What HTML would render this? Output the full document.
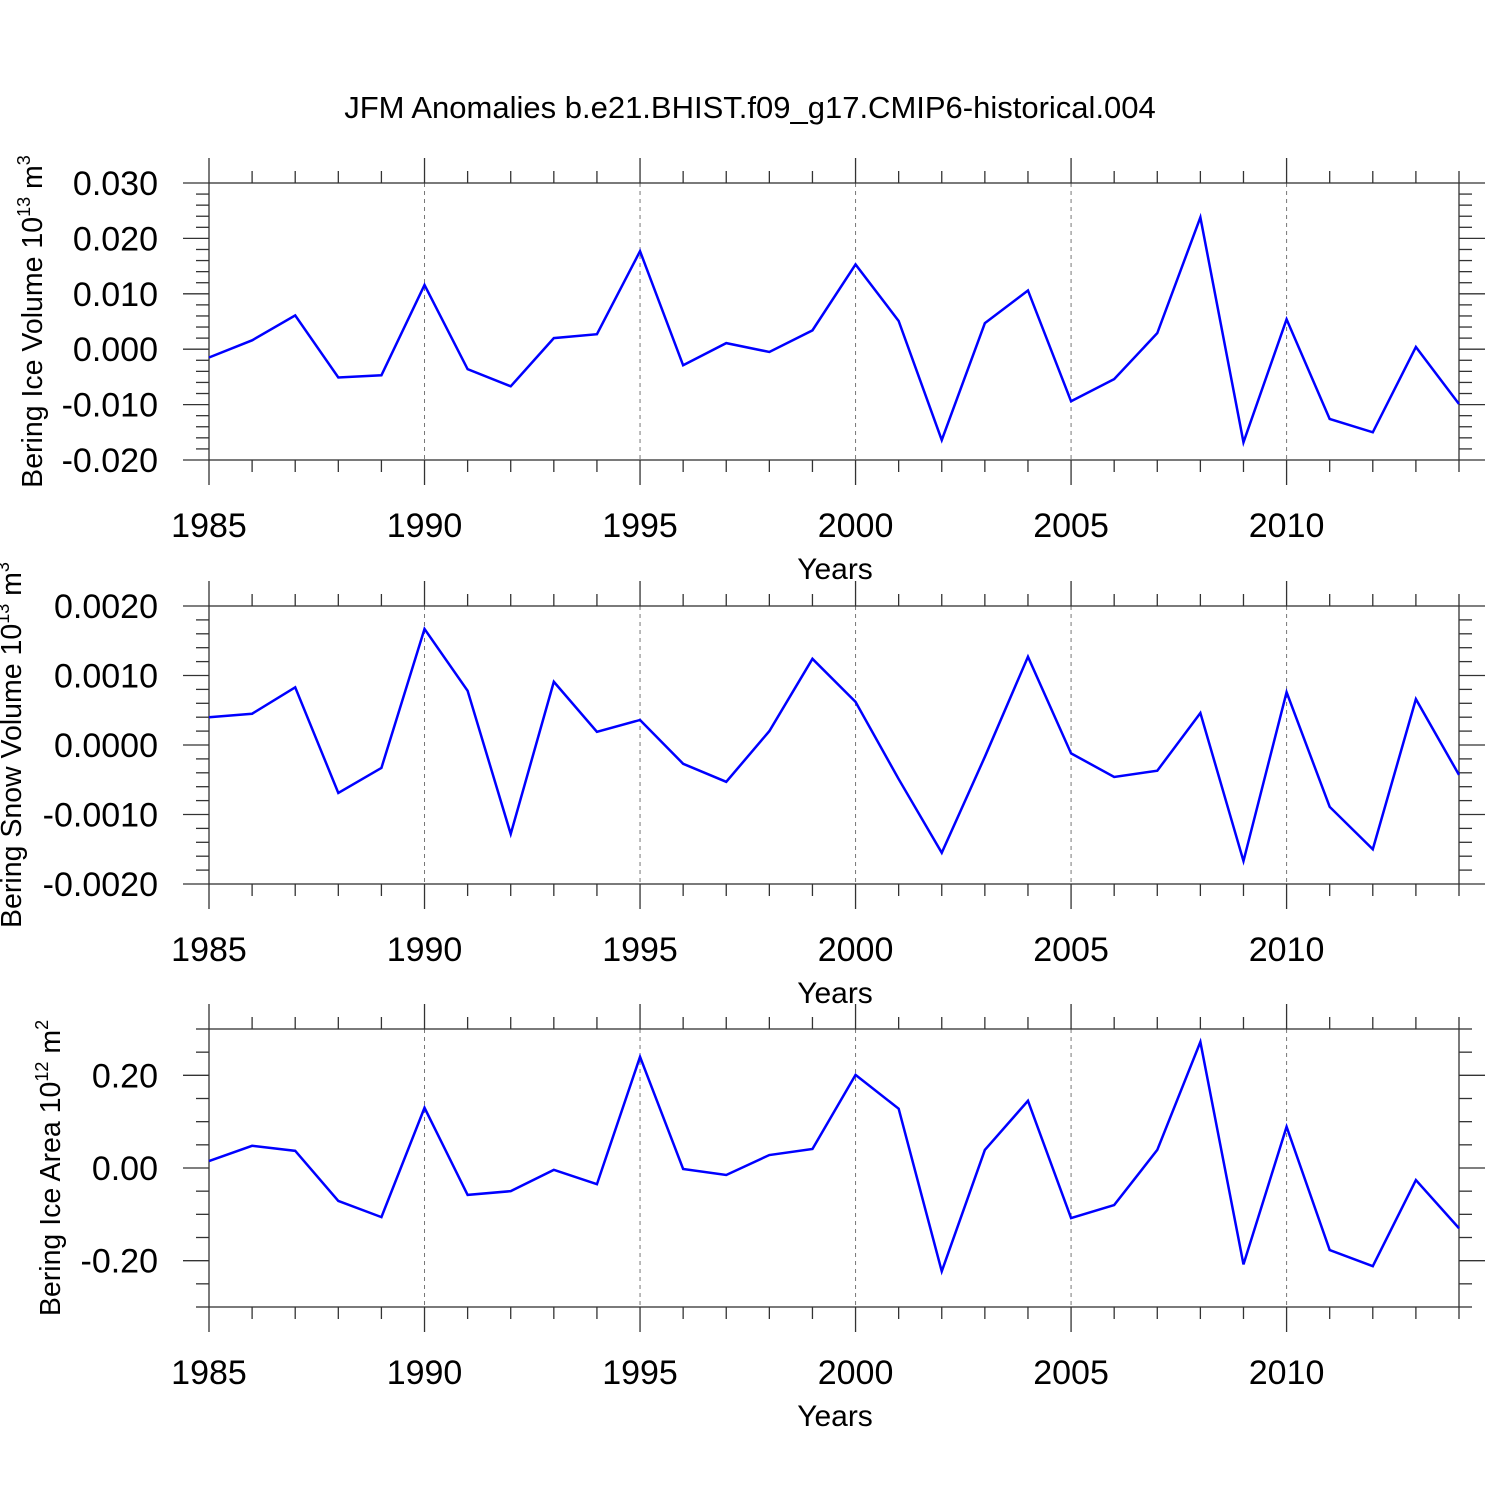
<!DOCTYPE html>
<html><head><meta charset="utf-8"><style>
html,body{margin:0;padding:0;background:#fff;}
svg{display:block;font-family:"Liberation Sans",sans-serif;}
</style></head><body>
<svg id="chart" width="1500" height="1500" viewBox="0 0 1500 1500">
<text x="750" y="118" text-anchor="middle" font-size="31">JFM Anomalies b.e21.BHIST.f09_g17.CMIP6-historical.004</text>
</svg>
<script>
const years = [1985,1986,1987,1988,1989,1990,1991,1992,1993,1994,1995,1996,1997,1998,1999,2000,2001,2002,2003,2004,2005,2006,2007,2008,2009,2010,2011,2012,2013,2014];
const iceVolume = [-0.0015,0.0016,0.0061,-0.0051,-0.0047,0.0116,-0.0036,-0.0067,0.0020,0.0027,0.0177,-0.0029,0.0011,-0.0005,0.0034,0.0153,0.0051,-0.0164,0.0047,0.0106,-0.0094,-0.0054,0.0029,0.0238,-0.0168,0.0054,-0.0126,-0.0150,0.0004,-0.0099];
const snowVolume = [0.00040,0.00045,0.00083,-0.00069,-0.00033,0.00167,0.00078,-0.00128,0.00091,0.00019,0.00036,-0.00027,-0.00053,0.00020,0.00124,0.00062,-0.00049,-0.00155,-0.00017,0.00127,-0.00012,-0.00046,-0.00037,0.00046,-0.00167,0.00076,-0.00089,-0.00150,0.00066,-0.00043];
const iceArea = [0.015,0.048,0.037,-0.071,-0.106,0.130,-0.058,-0.050,-0.004,-0.035,0.240,-0.002,-0.015,0.028,0.041,0.201,0.128,-0.223,0.039,0.145,-0.108,-0.080,0.039,0.272,-0.208,0.089,-0.177,-0.212,-0.026,-0.130];
const xTickLabels = [1985,1990,1995,2000,2005,2010];
const iceVolTicks = ["0.030","0.020","0.010","0.000","-0.010","-0.020"];
const snowTicks = ["0.0020","0.0010","0.0000","-0.0010","-0.0020"];
const areaTicks = ["0.20","0.00","-0.20"];

const NS="http://www.w3.org/2000/svg";
const svg=document.getElementById('chart');
function mk(tag,attrs,parent){const e=document.createElementNS(NS,tag);for(const k in attrs)e.setAttribute(k,attrs[k]);(parent||svg).appendChild(e);return e;}
const X0=209,X1=1459;
function xs(yr){return X0+(yr-1985)*(X1-X0)/29;}

function panel(o){
  const g=mk('g',{});
  
  
  const ys=v=>o.top+(o.ymax-v)*(o.bot-o.top)/(o.ymax-o.ymin);
  for(const yr of [1990,1995,2000,2005,2010]){
    const l=mk('line',{x1:xs(yr),x2:xs(yr),y1:o.top,y2:o.bot,stroke:'#777','stroke-width':1,'stroke-dasharray':'4,4'},g);
    
    
  }
  const st={stroke:'#333','stroke-width':1.3};
  const fr=mk('rect',Object.assign({x:X0,y:o.top,width:X1-X0,height:o.bot-o.top,fill:'none'},st),g);
  
  
  for(const yr of years){
    const maj=(yr%5===0), L=maj?25:12, x=xs(yr);
    mk('line',Object.assign({x1:x,x2:x,y1:o.top,y2:o.top-L},st),g);
    mk('line',Object.assign({x1:x,x2:x,y1:o.bot,y2:o.bot+L},st),g);
  }
  const n=Math.round((o.ymax-o.ymin)/o.minor);
  for(let i=0;i<=n;i++){
    const v=o.ymin+i*o.minor;
    const r=Math.abs(v/o.major-Math.round(v/o.major))<1e-6;
    const L=r?26:13, y=ys(v);
    mk('line',Object.assign({x1:X0,x2:X0-L,y1:y,y2:y},st),g);
    mk('line',Object.assign({x1:X1,x2:X1+L,y1:y,y2:y},st),g);
  }
  for(const t of o.ticks){
    const tx=mk('text',{x:158,y:ys(parseFloat(t))+12,'text-anchor':'end','font-size':34},g);
    tx.textContent=t;
    
    
  }
  for(const yr of xTickLabels){
    const tx=mk('text',{x:xs(yr),y:o.bot+77,'text-anchor':'middle','font-size':34},g);
    tx.textContent=yr;
    
    
  }
  const xt=mk('text',{x:835,y:o.bot+119,'text-anchor':'middle','font-size':30},g);
  xt.textContent='Years';
  
  
  const cy=(o.top+o.bot)/2;
  const yt=mk('text',{x:0,y:0,'text-anchor':'middle','font-size':28.5,transform:`translate(${o.tx},${cy}) rotate(-90)`},g);
  yt.innerHTML=o.title+' 10<tspan dy="-12" font-size="18">'+o.exp+'</tspan><tspan dy="12"> m</tspan><tspan dy="-12" font-size="18">'+o.exp2+'</tspan>';
  
  
  const pts=o.data.map((v,i)=>xs(years[i])+','+ys(v)).join(' ');
  const pl=mk('polyline',{points:pts,fill:'none',stroke:'#0000ff','stroke-width':2.5,'stroke-linejoin':'miter'},g);
  
  
}
panel({name:'ice-volume-panel',top:183,bot:460,ymax:0.030,ymin:-0.020,major:0.01,minor:0.002,ticks:iceVolTicks,data:iceVolume,title:'Bering Ice Volume',exp:'13',exp2:'3',tx:42});
panel({name:'snow-volume-panel',top:606,bot:884,ymax:0.0020,ymin:-0.0020,major:0.001,minor:0.0002,ticks:snowTicks,data:snowVolume,title:'Bering Snow Volume',exp:'13',exp2:'3',tx:21});
panel({name:'ice-area-panel',top:1029,bot:1307,ymax:0.30,ymin:-0.30,major:0.2,minor:0.05,ticks:areaTicks,data:iceArea,title:'Bering Ice Area',exp:'12',exp2:'2',tx:60});
</script>
</body></html>
